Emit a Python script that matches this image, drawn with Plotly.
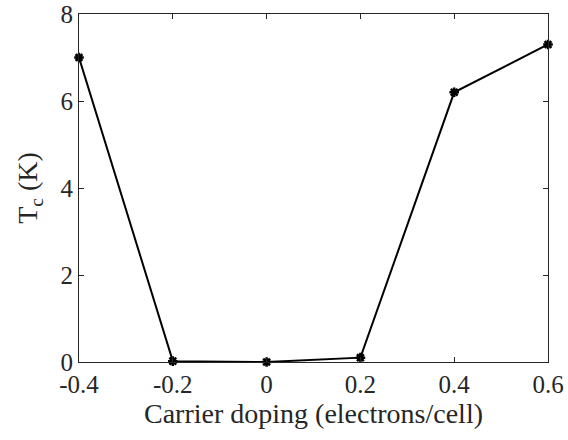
import plotly.graph_objects as go

# Carrier doping (electrons/cell) and superconducting Tc (K)
doping = [-0.4, -0.2, 0.0, 0.2, 0.4, 0.6]
tc = [7.0, 0.02, 0.0, 0.1, 6.2, 7.3]

x_ticks = [-0.4, -0.2, 0, 0.2, 0.4, 0.6]
x_labels = ["-0.4", "-0.2", "0", "0.2", "0.4", "0.6"]
y_ticks = [0, 2, 4, 6, 8]

ink = "#262626"
font = "Liberation Serif"

fig = go.Figure(
    go.Scatter(
        x=doping, y=tc, mode="lines+markers",
        line=dict(color="black", width=2),
        marker=dict(symbol="asterisk-open", size=8,
                    line=dict(color="black", width=2.5)),
        cliponaxis=False,
    )
)

axis_common = dict(
    showline=True, linecolor=ink, linewidth=1, mirror="ticks",
    ticks="inside", ticklen=5, tickcolor=ink, tickwidth=1,
    showgrid=False, zeroline=False, automargin=False,
    tickfont=dict(family=font, size=25, color=ink),
)

fig.update_layout(
    width=568, height=440,
    margin=dict(l=79, r=20, t=14, b=78),
    paper_bgcolor="white", plot_bgcolor="white",
    showlegend=False,
    xaxis=dict(range=[-0.4, 0.6], tickvals=x_ticks, ticktext=x_labels,
               title=dict(text="Carrier doping (electrons/cell)",
                          font=dict(family=font, size=28, color=ink), standoff=4),
               **axis_common),
    yaxis=dict(range=[0, 8], tickvals=y_ticks,
               title=dict(text="T<sub>c</sub> (K)",
                          font=dict(family=font, size=28, color=ink), standoff=14),
               **axis_common),
)

fig.write_html("out.html")
